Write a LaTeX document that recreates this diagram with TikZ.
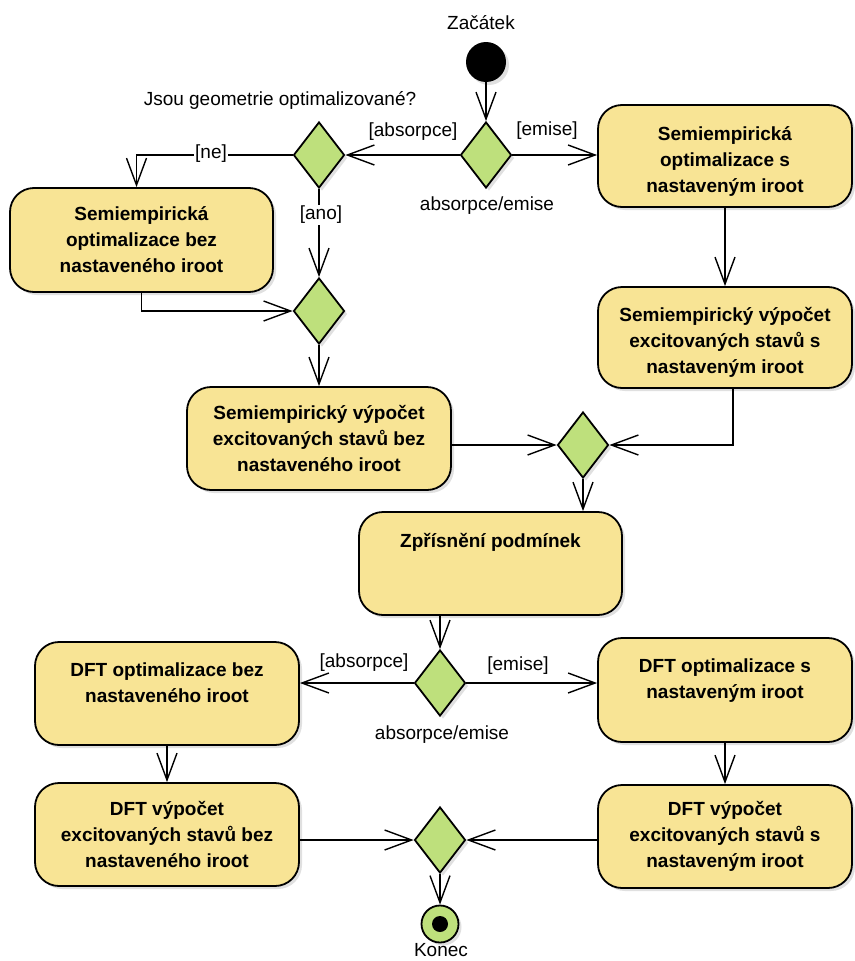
\documentclass[tikz,border=0pt]{standalone}
\usepackage{fontspec}
\setmainfont{Liberation Sans}
\usetikzlibrary{shapes.geometric,arrows.meta,shadows,calc}
\definecolor{boxfill}{HTML}{F8E495}
\definecolor{decfill}{HTML}{BEE07C}
\begin{document}
\begin{tikzpicture}[x=1pt,y=-1pt,
  shad/.style={drop shadow={shadow xshift=3pt,shadow yshift=-3pt,opacity=0.2,fill=black!60}},
  act/.style={draw=black, line width=1.8pt, fill=boxfill, rounded corners=24pt, align=center,
    inner sep=0pt, font=\bfseries\fontsize{19}{26}\selectfont, shad},
  dec/.style={diamond, draw=black, line width=1.8pt, fill=decfill, minimum width=51pt,
    minimum height=66pt, inner sep=0pt, shad},
  flow/.style={line width=1.4pt, -{Straight Barb[length=27pt,width=20pt,line width=1.4pt]}},
  lbl/.style={font=\fontsize{19}{23}\selectfont, inner sep=1pt},
  onl/.style={lbl, fill=white}]
\useasboundingbox (0,0) rectangle (854,961);

% start / end
\node[circle, fill=black, minimum size=40pt, inner sep=0pt, shad] (S) at (486,62) {};
\node[lbl] (tS) at (481,23) {Začátek};
\node[circle, draw=black, line width=1.8pt, fill=decfill, minimum size=37pt, inner sep=0pt, shad] (E) at (440,924) {};
\node[circle, fill=black, minimum size=16pt, inner sep=0pt] (Ei) at (E) {};
\node[lbl] (tE) at (441,950) {Konec};

% decisions
\node[dec] (D1) at (486,155) {};
\node[dec] (D2) at (319,155) {};
\node[dec] (D3) at (319,311) {};
\node[dec] (D4) at (583,445) {};
\node[dec] (D5) at (440,683) {};
\node[dec] (D6) at (440,840) {};

% activities
\node[act, minimum width=254pt, minimum height=102pt] (R1) at (725,156) {\strut\\[-20pt]Semiempirická\\optimalizace s\\nastaveným iroot};
\node[act, minimum width=254pt, minimum height=101pt] (R2) at (725,337.5) {\strut\\[-20pt]Semiempirický výpočet\\excitovaných stavů s\\nastaveným iroot};
\node[act, minimum width=263pt, minimum height=104pt] (L1) at (141.5,240) {Semiempirická\\optimalizace bez\\nastaveného iroot};
\node[act, minimum width=264pt, minimum height=103pt] (M1) at (319,438.5) {Semiempirický výpočet\\excitovaných stavů bez\\nastaveného iroot};
\node[act, minimum width=263pt, minimum height=103pt] (Z) at (490.5,563.5) {Zpřísnění podmínek\\[-7pt]\strut\\[-7pt]\strut};
\node[act, minimum width=264pt, minimum height=103pt] (L2) at (167,693.5) {DFT optimalizace bez\\nastaveného iroot\\[-12pt]\strut};
\node[act, minimum width=264pt, minimum height=103pt] (L3) at (167,834.5) {DFT výpočet\\excitovaných stavů bez\\nastaveného iroot};
\node[act, minimum width=254pt, minimum height=104pt] (R3) at (725,690) {DFT optimalizace s\\nastaveným iroot\\[-12pt]\strut};
\node[act, minimum width=254pt, minimum height=103pt] (R4) at (725,836.5) {DFT výpočet\\excitovaných stavů s\\nastaveným iroot};

% labels
\node[lbl] (q1) at (280,100) {Jsou geometrie optimalizované?};
\node[lbl] (a1) at (413,132) {[absorpce]};
\node[lbl] (e1) at (547,131) {[emise]};
\node[lbl] (ae1) at (487,206) {absorpce/emise};
\node[lbl] (a2) at (364,663) {[absorpce]};
\node[lbl] (e2) at (518,666) {[emise]};
\node[lbl] (ae2) at (442,735) {absorpce/emise};

% connectors
\draw[flow] (S) -- (D1);
\draw[flow] (D1.west) -- (D2.east);
\draw[flow] (D1.east) -- (D1.east -| R1.west);
\draw[flow] (D2.west) -| ($(L1.north)+(-5,0)$);
\node[onl] (ne) at (211,154) {[ne]};
\draw[flow] (D2.south) -- (D3.north);
\node[onl] (ano) at (321,215) {[ano]};
\draw[flow] (L1.south) |- (D3.west);
\draw[flow] (D3.south) -- (M1.north);
\draw[flow] (R1.south) -- (R2.north);
\draw[flow] (M1.east |- D4) -- (D4.west);
\draw[flow] ($(R2.south)+(8,0)$) |- (D4.east);
\draw[flow] (D4.south) -- (D4.south |- Z.north);
\draw[flow] (D5.north |- Z.south) -- (D5.north);
\draw[flow] (D5.west) -- (D5.west -| L2.east);
\draw[flow] (D5.east) -- (D5.east -| R3.west);
\draw[flow] (L2.south) -- (L3.north);
\draw[flow] (R3.south) -- (R4.north);
\draw[flow] (L3.east |- D6) -- (D6.west);
\draw[flow] (R4.west |- D6) -- (D6.east);
\draw[flow] (D6.south) -- (E.north);
\end{tikzpicture}
\end{document}
